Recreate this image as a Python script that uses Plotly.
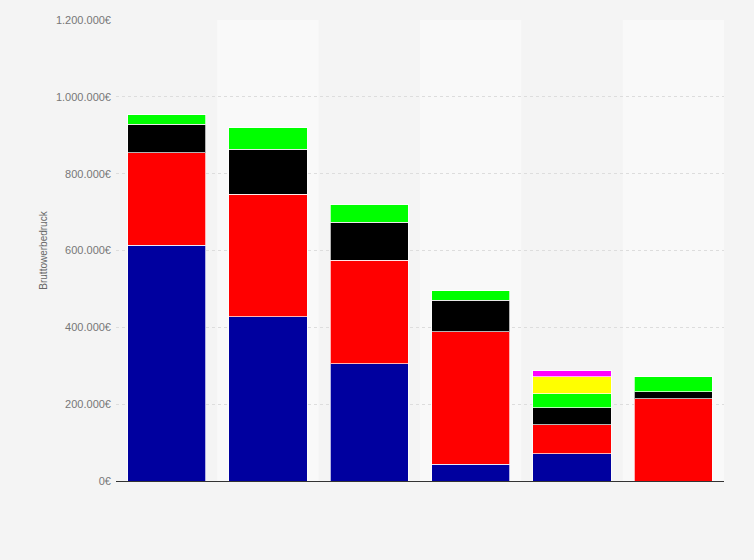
import plotly.graph_objects as go

categories = ["1", "2", "3", "4", "5", "6"]
blue = [614000, 427000, 305000, 44000, 71000, 0]
red = [240000, 320000, 270000, 344000, 76000, 214000]
black = [75000, 117000, 99000, 83000, 44000, 18000]
green = [24000, 55000, 47000, 24000, 36000, 40000]
yellow = [0, 0, 0, 0, 45000, 0]
magenta = [0, 0, 0, 0, 15000, 0]

series = [
    ("Serie A", blue, "#00009f"),
    ("Serie B", red, "#ff0000"),
    ("Serie C", black, "#000000"),
    ("Serie D", green, "#00ff00"),
    ("Serie E", yellow, "#ffff00"),
    ("Serie F", magenta, "#ff00ff"),
]

fig = go.Figure()
for name, vals, col in series:
    fig.add_trace(go.Bar(
        x=categories, y=vals, name=name,
        marker=dict(color=col, line=dict(color="rgba(255,255,255,0.7)", width=1)),
    ))

shapes = []
for i in range(len(categories)):
    if i % 2 == 1:
        shapes.append(dict(type="rect", xref="x", yref="paper", x0=i - 0.5, x1=i + 0.5,
                           y0=0, y1=1, fillcolor="#f9f9f9", line=dict(width=0), layer="below"))

fig.update_layout(
    barmode="stack",
    bargap=0.23,
    width=754, height=560,
    margin=dict(l=116, r=30, t=20, b=79),
    paper_bgcolor="#f4f4f4",
    plot_bgcolor="#f4f4f4",
    separators=",.",
    showlegend=False,
    shapes=shapes,
    font=dict(family="Liberation Sans, Arial, sans-serif", size=10, color="#666666"),
    xaxis=dict(showticklabels=False, showgrid=False, showline=True, linecolor="#333333",
               linewidth=1, ticks="", range=[-0.5, 5.5]),
    yaxis=dict(range=[0, 1200000], dtick=200000, tickformat=",.0f", ticksuffix="€",
               showgrid=True, gridcolor="#dddddd", griddash="dot", gridwidth=1,
               zeroline=False, ticks="", ticklen=0, ticklabelstandoff=4,
               title=dict(text="Bruttowerbedruck", font=dict(size=10, color="#666666"), standoff=6),
               tickfont=dict(size=11, color="#777777")),
)

fig.write_html("out.html", config={"displayModeBar": False},
               post_script="document.body.style.margin='0';document.body.style.background='#f4f4f4';")
